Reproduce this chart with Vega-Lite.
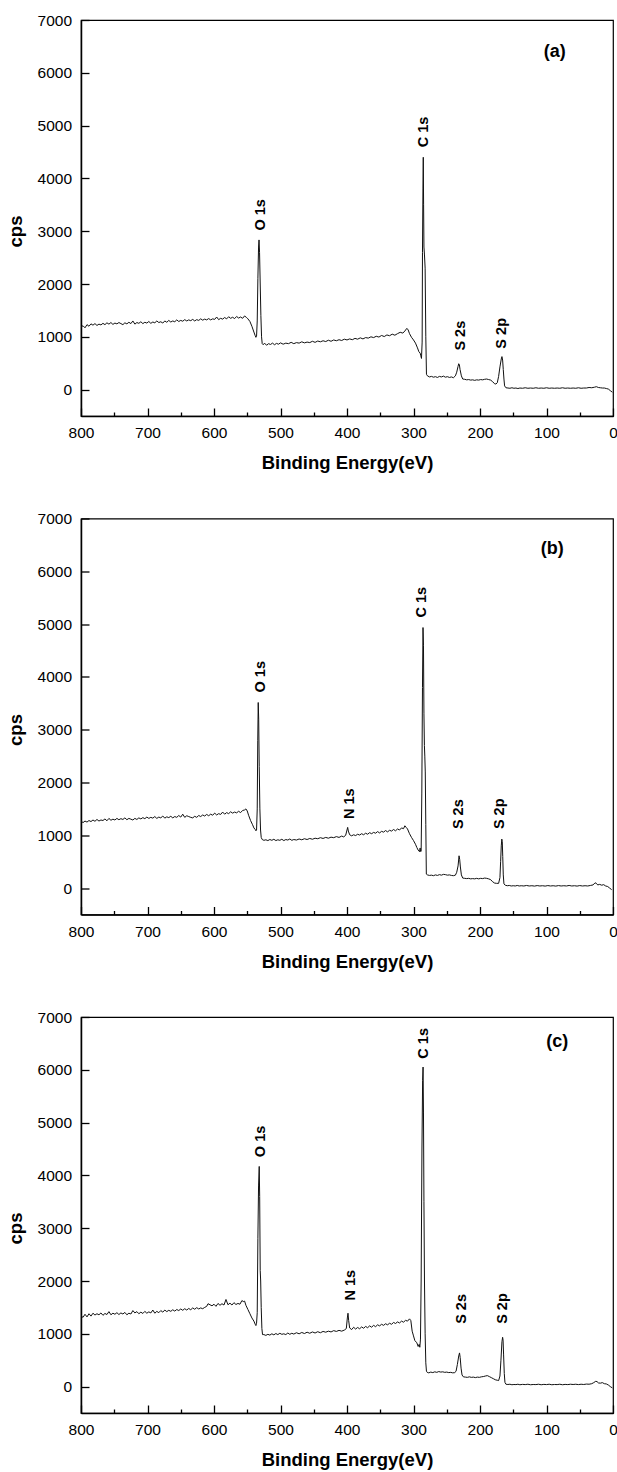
{
"$schema": "https://vega.github.io/schema/vega-lite/v6.json",
"bounds": "flush",
"spacing": 102.5,
"padding": {"left": 5, "top": 12, "right": 5, "bottom": 5},
"config": {
  "font": "Liberation Sans",
  "view": {"stroke": "#000", "strokeWidth": 1.2},
  "axis": {"domainColor": "#000", "domainWidth": 1.5, "tickColor": "#000", "tickWidth": 1.3, "labelColor": "#000", "titleColor": "#000", "labelFont": "Liberation Sans", "labelFontSize": 15.5, "titleFont": "Liberation Sans", "titleFontSize": 18.5, "titleFontWeight": "bold", "grid": false, "labelFlush": false, "labelOverlap": false},
  "axisX": {"values": [0,50,100,150,200,250,300,350,400,450,500,550,600,650,700,750,800], "labelExpr": "datum.value % 100 === 0 ? datum.label : ''", "labelPadding": 17.5, "titleY": 37.5, "titleBaseline": "top"},
  "axisY": {"values": [-500,0,500,1000,1500,2000,2500,3000,3500,4000,4500,5000,5500,6000,6500,7000], "labelExpr": "datum.value % 1000 === 0 ? datum.label : ''", "labelPadding": 17.5, "titleY": 211, "titlePadding": 12, "format": "d"}
},
"vconcat": [
{
  "width": 532, "height": 396,
  "layer": [
    {"data": {"values": [
{"E":800,"cps":1180},{"E":797,"cps":1210},{"E":794,"cps":1170},{"E":791,"cps":1230},{"E":788,"cps":1200},{"E":785,"cps":1245},{"E":782,"cps":1220},{"E":779,"cps":1250},{"E":776,"cps":1215},{"E":773,"cps":1240},{"E":770,"cps":1225},{"E":767,"cps":1255},{"E":764,"cps":1230},{"E":761,"cps":1265},{"E":758,"cps":1240},{"E":755,"cps":1270},{"E":752,"cps":1235},{"E":749,"cps":1260},{"E":746,"cps":1245},{"E":743,"cps":1270},{"E":740,"cps":1250},{"E":737,"cps":1230},{"E":734,"cps":1265},{"E":731,"cps":1245},{"E":728,"cps":1275},{"E":725,"cps":1250},{"E":722,"cps":1300},{"E":719,"cps":1240},{"E":716,"cps":1270},{"E":713,"cps":1255},{"E":710,"cps":1285},{"E":707,"cps":1250},{"E":704,"cps":1275},{"E":701,"cps":1260},{"E":698,"cps":1290},{"E":695,"cps":1255},{"E":692,"cps":1280},{"E":689,"cps":1265},{"E":686,"cps":1300},{"E":683,"cps":1270},{"E":680,"cps":1285},{"E":677,"cps":1260},{"E":674,"cps":1300},{"E":671,"cps":1275},{"E":668,"cps":1310},{"E":665,"cps":1280},{"E":662,"cps":1300},{"E":659,"cps":1285},{"E":656,"cps":1320},{"E":653,"cps":1290},{"E":650,"cps":1310},{"E":647,"cps":1295},{"E":644,"cps":1325},{"E":641,"cps":1300},{"E":638,"cps":1320},{"E":635,"cps":1305},{"E":632,"cps":1330},{"E":629,"cps":1300},{"E":626,"cps":1325},{"E":623,"cps":1310},{"E":620,"cps":1340},{"E":617,"cps":1315},{"E":614,"cps":1335},{"E":611,"cps":1320},{"E":608,"cps":1345},{"E":605,"cps":1320},{"E":602,"cps":1340},{"E":599,"cps":1330},{"E":596,"cps":1375},{"E":593,"cps":1325},{"E":590,"cps":1350},{"E":587,"cps":1335},{"E":584,"cps":1365},{"E":581,"cps":1340},{"E":578,"cps":1380},{"E":575,"cps":1350},{"E":572,"cps":1370},{"E":569,"cps":1345},{"E":566,"cps":1385},{"E":563,"cps":1355},{"E":560,"cps":1375},{"E":557,"cps":1350},{"E":554,"cps":1395},{"E":551,"cps":1365},{"E":549,"cps":1340},{"E":546,"cps":1290},{"E":543,"cps":1200},{"E":540,"cps":1090},{"E":538,"cps":1020},{"E":537,"cps":990},{"E":536,"cps":1010},{"E":535,"cps":1300},{"E":534,"cps":2100},{"E":533,"cps":2700},{"E":532.3,"cps":2835},{"E":531.5,"cps":2600},{"E":530.5,"cps":2000},{"E":529.5,"cps":1400},{"E":528.5,"cps":1000},{"E":527.5,"cps":870},{"E":526,"cps":850},{"E":524,"cps":880},{"E":521,"cps":840},{"E":518,"cps":870},{"E":515,"cps":855},{"E":512,"cps":880},{"E":509,"cps":850},{"E":506,"cps":875},{"E":503,"cps":860},{"E":500,"cps":885},{"E":496,"cps":860},{"E":492,"cps":880},{"E":488,"cps":870},{"E":484,"cps":895},{"E":480,"cps":870},{"E":476,"cps":890},{"E":472,"cps":880},{"E":468,"cps":905},{"E":464,"cps":885},{"E":460,"cps":900},{"E":456,"cps":890},{"E":452,"cps":915},{"E":448,"cps":895},{"E":444,"cps":920},{"E":440,"cps":905},{"E":436,"cps":925},{"E":432,"cps":910},{"E":428,"cps":935},{"E":424,"cps":915},{"E":420,"cps":940},{"E":416,"cps":925},{"E":412,"cps":945},{"E":408,"cps":930},{"E":404,"cps":955},{"E":400,"cps":940},{"E":396,"cps":960},{"E":392,"cps":945},{"E":388,"cps":970},{"E":384,"cps":955},{"E":380,"cps":980},{"E":376,"cps":960},{"E":372,"cps":985},{"E":368,"cps":975},{"E":364,"cps":1000},{"E":360,"cps":985},{"E":356,"cps":1010},{"E":352,"cps":995},{"E":348,"cps":1025},{"E":344,"cps":1005},{"E":340,"cps":1035},{"E":336,"cps":1020},{"E":332,"cps":1050},{"E":328,"cps":1030},{"E":324,"cps":1060},{"E":320,"cps":1085},{"E":316,"cps":1070},{"E":313,"cps":1110},{"E":310,"cps":1160},{"E":308,"cps":1130},{"E":306,"cps":1060},{"E":303,"cps":990},{"E":300,"cps":940},{"E":297,"cps":880},{"E":294,"cps":790},{"E":292,"cps":720},{"E":290,"cps":690},{"E":289,"cps":640},{"E":288,"cps":590},{"E":287,"cps":900},{"E":286.5,"cps":2600},{"E":285.8,"cps":3800},{"E":285.3,"cps":4400},{"E":284.8,"cps":3500},{"E":284.3,"cps":2700},{"E":283.5,"cps":2550},{"E":282.5,"cps":2300},{"E":281.5,"cps":1000},{"E":280.5,"cps":290},{"E":279,"cps":260},{"E":276,"cps":240},{"E":273,"cps":250},{"E":270,"cps":235},{"E":267,"cps":245},{"E":264,"cps":230},{"E":261,"cps":250},{"E":258,"cps":240},{"E":255,"cps":255},{"E":252,"cps":235},{"E":249,"cps":245},{"E":246,"cps":230},{"E":243,"cps":240},{"E":240,"cps":225},{"E":237,"cps":260},{"E":235,"cps":330},{"E":233,"cps":440},{"E":232,"cps":490},{"E":231,"cps":470},{"E":230,"cps":380},{"E":228,"cps":260},{"E":226,"cps":200},{"E":223,"cps":195},{"E":220,"cps":185},{"E":217,"cps":190},{"E":214,"cps":180},{"E":211,"cps":185},{"E":208,"cps":175},{"E":205,"cps":185},{"E":202,"cps":180},{"E":199,"cps":190},{"E":196,"cps":185},{"E":193,"cps":195},{"E":190,"cps":200},{"E":187,"cps":190},{"E":184,"cps":180},{"E":181,"cps":150},{"E":178,"cps":110},{"E":176,"cps":105},{"E":174,"cps":130},{"E":172,"cps":250},{"E":170,"cps":430},{"E":168,"cps":580},{"E":167,"cps":625},{"E":166,"cps":560},{"E":165,"cps":380},{"E":164,"cps":200},{"E":163,"cps":70},{"E":161,"cps":35},{"E":158,"cps":30},{"E":155,"cps":25},{"E":152,"cps":35},{"E":149,"cps":25},{"E":146,"cps":30},{"E":143,"cps":20},{"E":140,"cps":30},{"E":136,"cps":25},{"E":132,"cps":35},{"E":128,"cps":25},{"E":124,"cps":30},{"E":120,"cps":25},{"E":116,"cps":35},{"E":112,"cps":25},{"E":108,"cps":30},{"E":104,"cps":25},{"E":100,"cps":35},{"E":96,"cps":25},{"E":92,"cps":30},{"E":88,"cps":25},{"E":84,"cps":30},{"E":80,"cps":25},{"E":76,"cps":35},{"E":72,"cps":25},{"E":68,"cps":30},{"E":64,"cps":25},{"E":60,"cps":30},{"E":56,"cps":25},{"E":52,"cps":35},{"E":48,"cps":25},{"E":44,"cps":30},{"E":40,"cps":30},{"E":36,"cps":40},{"E":32,"cps":35},{"E":28,"cps":45},{"E":25,"cps":55},{"E":22,"cps":40},{"E":19,"cps":35},{"E":16,"cps":30},{"E":13,"cps":30},{"E":10,"cps":20},{"E":7,"cps":10},{"E":4,"cps":-20},{"E":1,"cps":-50}
    ]},
     "mark": {"type": "line", "color": "#111", "strokeWidth": 1},
     "encoding": {
       "x": {"field": "E", "type": "quantitative", "title": "Binding Energy(eV)", "scale": {"domain": [0, 800], "reverse": true, "nice": false, "zero": false}, "axis": {"tickSize": {"condition": {"test": "datum.value % 100 === 0", "value": -8}, "value": -4}}},
       "y": {"field": "cps", "type": "quantitative", "title": "cps", "scale": {"domain": [-500, 7000], "nice": false, "zero": false}, "axis": {"tickSize": {"condition": {"test": "datum.value % 1000 === 0", "value": -8}, "value": -4}}}
     }},
    {"data": {"values": [{"E":529.6,"cps":3011,"t":"O 1s"},{"E":284.2,"cps":4589,"t":"C 1s"},{"E":229.1,"cps":739,"t":"S 2s"},{"E":167.5,"cps":776,"t":"S 2p"}]},
     "mark": {"type": "text", "angle": 270, "align": "left", "baseline": "middle", "font": "Liberation Sans", "fontWeight": "bold", "fontSize": 14.5, "color": "#000"},
     "encoding": {"x": {"field": "E", "type": "quantitative", "title": "Binding Energy(eV)", "scale": {"domain": [0, 800], "reverse": true, "nice": false, "zero": false}}, "y": {"field": "cps", "type": "quantitative", "title": "cps", "scale": {"domain": [-500, 7000], "nice": false, "zero": false}}, "text": {"field": "t"}}},
    {"data": {"values": [{"E":87.6,"cps":6388,"t":"(a)"}]},
     "mark": {"type": "text", "align": "center", "baseline": "middle", "font": "Liberation Sans", "fontWeight": "bold", "fontSize": 18, "color": "#000"},
     "encoding": {"x": {"field": "E", "type": "quantitative", "title": "Binding Energy(eV)", "scale": {"domain": [0, 800], "reverse": true, "nice": false, "zero": false}}, "y": {"field": "cps", "type": "quantitative", "title": "cps", "scale": {"domain": [-500, 7000], "nice": false, "zero": false}}, "text": {"field": "t"}}}
  ]
},
{
  "width": 532, "height": 396,
  "layer": [
    {"data": {"values": [
{"E":800,"cps":1275},{"E":797,"cps":1240},{"E":794,"cps":1270},{"E":791,"cps":1250},{"E":788,"cps":1280},{"E":785,"cps":1260},{"E":782,"cps":1290},{"E":779,"cps":1265},{"E":776,"cps":1300},{"E":773,"cps":1270},{"E":770,"cps":1290},{"E":767,"cps":1280},{"E":764,"cps":1310},{"E":761,"cps":1275},{"E":758,"cps":1320},{"E":755,"cps":1285},{"E":752,"cps":1305},{"E":749,"cps":1290},{"E":746,"cps":1320},{"E":743,"cps":1295},{"E":740,"cps":1315},{"E":737,"cps":1300},{"E":734,"cps":1330},{"E":731,"cps":1295},{"E":728,"cps":1320},{"E":725,"cps":1305},{"E":722,"cps":1290},{"E":719,"cps":1320},{"E":716,"cps":1300},{"E":713,"cps":1330},{"E":710,"cps":1310},{"E":707,"cps":1335},{"E":704,"cps":1315},{"E":701,"cps":1345},{"E":698,"cps":1320},{"E":695,"cps":1340},{"E":692,"cps":1325},{"E":689,"cps":1355},{"E":686,"cps":1320},{"E":683,"cps":1345},{"E":680,"cps":1330},{"E":677,"cps":1365},{"E":674,"cps":1325},{"E":671,"cps":1350},{"E":668,"cps":1335},{"E":665,"cps":1360},{"E":662,"cps":1330},{"E":659,"cps":1355},{"E":656,"cps":1340},{"E":653,"cps":1375},{"E":650,"cps":1345},{"E":647,"cps":1400},{"E":644,"cps":1340},{"E":641,"cps":1370},{"E":638,"cps":1355},{"E":635,"cps":1340},{"E":632,"cps":1330},{"E":629,"cps":1360},{"E":626,"cps":1340},{"E":623,"cps":1375},{"E":620,"cps":1355},{"E":617,"cps":1385},{"E":614,"cps":1365},{"E":611,"cps":1395},{"E":608,"cps":1370},{"E":605,"cps":1400},{"E":602,"cps":1380},{"E":599,"cps":1420},{"E":596,"cps":1385},{"E":593,"cps":1410},{"E":590,"cps":1395},{"E":587,"cps":1440},{"E":584,"cps":1400},{"E":581,"cps":1430},{"E":578,"cps":1410},{"E":575,"cps":1445},{"E":572,"cps":1420},{"E":569,"cps":1440},{"E":566,"cps":1425},{"E":563,"cps":1455},{"E":560,"cps":1430},{"E":557,"cps":1470},{"E":554,"cps":1480},{"E":552,"cps":1500},{"E":550,"cps":1460},{"E":548,"cps":1380},{"E":545,"cps":1280},{"E":542,"cps":1200},{"E":540,"cps":1140},{"E":538,"cps":1110},{"E":537,"cps":1085},{"E":536,"cps":1100},{"E":535,"cps":1500},{"E":534.2,"cps":2800},{"E":533.5,"cps":3515},{"E":532.8,"cps":3200},{"E":532,"cps":2300},{"E":531,"cps":1500},{"E":530,"cps":1100},{"E":529,"cps":960},{"E":527.5,"cps":920},{"E":525,"cps":905},{"E":522,"cps":915},{"E":519,"cps":900},{"E":516,"cps":920},{"E":513,"cps":905},{"E":510,"cps":925},{"E":507,"cps":900},{"E":504,"cps":915},{"E":501,"cps":905},{"E":498,"cps":925},{"E":495,"cps":900},{"E":492,"cps":920},{"E":489,"cps":910},{"E":486,"cps":930},{"E":483,"cps":905},{"E":480,"cps":920},{"E":476,"cps":910},{"E":472,"cps":930},{"E":468,"cps":915},{"E":464,"cps":935},{"E":460,"cps":920},{"E":456,"cps":940},{"E":452,"cps":925},{"E":448,"cps":945},{"E":444,"cps":935},{"E":440,"cps":955},{"E":436,"cps":940},{"E":432,"cps":960},{"E":428,"cps":945},{"E":424,"cps":965},{"E":420,"cps":955},{"E":416,"cps":975},{"E":412,"cps":960},{"E":408,"cps":985},{"E":405,"cps":970},{"E":402,"cps":1000},{"E":400,"cps":1100},{"E":399,"cps":1150},{"E":398,"cps":1080},{"E":396,"cps":1010},{"E":393,"cps":990},{"E":390,"cps":1010},{"E":387,"cps":995},{"E":384,"cps":1020},{"E":381,"cps":1005},{"E":378,"cps":1030},{"E":375,"cps":1010},{"E":372,"cps":1040},{"E":369,"cps":1020},{"E":366,"cps":1050},{"E":363,"cps":1030},{"E":360,"cps":1055},{"E":357,"cps":1040},{"E":354,"cps":1070},{"E":351,"cps":1045},{"E":348,"cps":1075},{"E":345,"cps":1060},{"E":342,"cps":1090},{"E":339,"cps":1065},{"E":336,"cps":1095},{"E":333,"cps":1080},{"E":330,"cps":1110},{"E":327,"cps":1085},{"E":324,"cps":1120},{"E":321,"cps":1100},{"E":318,"cps":1140},{"E":315,"cps":1125},{"E":313,"cps":1180},{"E":311,"cps":1150},{"E":309,"cps":1120},{"E":306,"cps":1030},{"E":303,"cps":960},{"E":300,"cps":900},{"E":297,"cps":830},{"E":295,"cps":770},{"E":293,"cps":720},{"E":291,"cps":690},{"E":290,"cps":760},{"E":289.2,"cps":690},{"E":288.5,"cps":700},{"E":287.5,"cps":1800},{"E":286.5,"cps":3800},{"E":285.7,"cps":4935},{"E":285,"cps":4600},{"E":284.3,"cps":3300},{"E":283.6,"cps":2700},{"E":283,"cps":2500},{"E":282.3,"cps":2200},{"E":281.5,"cps":1200},{"E":280.7,"cps":265},{"E":279,"cps":250},{"E":276,"cps":240},{"E":273,"cps":245},{"E":270,"cps":235},{"E":267,"cps":250},{"E":264,"cps":240},{"E":261,"cps":255},{"E":258,"cps":245},{"E":255,"cps":260},{"E":252,"cps":255},{"E":249,"cps":245},{"E":246,"cps":250},{"E":243,"cps":240},{"E":240,"cps":235},{"E":237,"cps":245},{"E":235,"cps":300},{"E":233,"cps":420},{"E":231.5,"cps":612},{"E":230.5,"cps":540},{"E":229.5,"cps":400},{"E":228,"cps":250},{"E":226,"cps":190},{"E":223,"cps":185},{"E":220,"cps":180},{"E":217,"cps":185},{"E":214,"cps":175},{"E":211,"cps":180},{"E":208,"cps":175},{"E":205,"cps":185},{"E":202,"cps":175},{"E":199,"cps":185},{"E":196,"cps":180},{"E":193,"cps":190},{"E":190,"cps":185},{"E":187,"cps":175},{"E":184,"cps":160},{"E":181,"cps":120},{"E":178,"cps":95},{"E":175,"cps":90},{"E":172,"cps":90},{"E":170,"cps":200},{"E":169,"cps":500},{"E":168,"cps":800},{"E":167.2,"cps":928},{"E":166.5,"cps":880},{"E":165.8,"cps":600},{"E":165,"cps":250},{"E":164,"cps":80},{"E":162,"cps":55},{"E":159,"cps":45},{"E":156,"cps":50},{"E":153,"cps":40},{"E":150,"cps":45},{"E":147,"cps":40},{"E":144,"cps":50},{"E":141,"cps":40},{"E":138,"cps":45},{"E":134,"cps":40},{"E":130,"cps":50},{"E":126,"cps":40},{"E":122,"cps":45},{"E":118,"cps":38},{"E":114,"cps":48},{"E":110,"cps":40},{"E":106,"cps":45},{"E":102,"cps":38},{"E":98,"cps":48},{"E":94,"cps":40},{"E":90,"cps":45},{"E":86,"cps":38},{"E":82,"cps":48},{"E":78,"cps":40},{"E":74,"cps":45},{"E":70,"cps":40},{"E":66,"cps":50},{"E":62,"cps":40},{"E":58,"cps":45},{"E":54,"cps":38},{"E":50,"cps":48},{"E":46,"cps":40},{"E":42,"cps":45},{"E":38,"cps":40},{"E":34,"cps":50},{"E":30,"cps":60},{"E":27,"cps":100},{"E":25,"cps":90},{"E":23,"cps":60},{"E":20,"cps":70},{"E":17,"cps":55},{"E":14,"cps":65},{"E":11,"cps":40},{"E":8,"cps":30},{"E":5,"cps":0},{"E":2,"cps":-30}
    ]},
     "mark": {"type": "line", "color": "#111", "strokeWidth": 1},
     "encoding": {
       "x": {"field": "E", "type": "quantitative", "title": "Binding Energy(eV)", "scale": {"domain": [0, 800], "reverse": true, "nice": false, "zero": false}, "axis": {"tickSize": {"condition": {"test": "datum.value % 100 === 0", "value": -8}, "value": -4}}},
       "y": {"field": "cps", "type": "quantitative", "title": "cps", "scale": {"domain": [-500, 7000], "nice": false, "zero": false}, "axis": {"tickSize": {"condition": {"test": "datum.value % 1000 === 0", "value": -8}, "value": -4}}}
     }},
    {"data": {"values": [{"E":529.7,"cps":3705,"t":"O 1s"},{"E":286.9,"cps":5125,"t":"C 1s"},{"E":395.8,"cps":1307,"t":"N 1s"},{"E":231.7,"cps":1117,"t":"S 2s"},{"E":169.4,"cps":1117,"t":"S 2p"}]},
     "mark": {"type": "text", "angle": 270, "align": "left", "baseline": "middle", "font": "Liberation Sans", "fontWeight": "bold", "fontSize": 14.5, "color": "#000"},
     "encoding": {"x": {"field": "E", "type": "quantitative", "title": "Binding Energy(eV)", "scale": {"domain": [0, 800], "reverse": true, "nice": false, "zero": false}}, "y": {"field": "cps", "type": "quantitative", "title": "cps", "scale": {"domain": [-500, 7000], "nice": false, "zero": false}}, "text": {"field": "t"}}},
    {"data": {"values": [{"E":91.5,"cps":6420,"t":"(b)"}]},
     "mark": {"type": "text", "align": "center", "baseline": "middle", "font": "Liberation Sans", "fontWeight": "bold", "fontSize": 18, "color": "#000"},
     "encoding": {"x": {"field": "E", "type": "quantitative", "title": "Binding Energy(eV)", "scale": {"domain": [0, 800], "reverse": true, "nice": false, "zero": false}}, "y": {"field": "cps", "type": "quantitative", "title": "cps", "scale": {"domain": [-500, 7000], "nice": false, "zero": false}}, "text": {"field": "t"}}}
  ]
},
{
  "width": 532, "height": 396,
  "layer": [
    {"data": {"values": [
{"E":800,"cps":1346},{"E":797,"cps":1310},{"E":794,"cps":1370},{"E":791,"cps":1320},{"E":788,"cps":1380},{"E":785,"cps":1335},{"E":782,"cps":1390},{"E":779,"cps":1355},{"E":776,"cps":1380},{"E":773,"cps":1360},{"E":770,"cps":1395},{"E":767,"cps":1350},{"E":764,"cps":1385},{"E":761,"cps":1365},{"E":758,"cps":1420},{"E":755,"cps":1360},{"E":752,"cps":1390},{"E":749,"cps":1370},{"E":746,"cps":1400},{"E":743,"cps":1365},{"E":740,"cps":1395},{"E":737,"cps":1375},{"E":734,"cps":1405},{"E":731,"cps":1360},{"E":728,"cps":1390},{"E":725,"cps":1375},{"E":722,"cps":1440},{"E":719,"cps":1395},{"E":716,"cps":1420},{"E":713,"cps":1380},{"E":710,"cps":1410},{"E":707,"cps":1385},{"E":704,"cps":1425},{"E":701,"cps":1390},{"E":698,"cps":1415},{"E":695,"cps":1395},{"E":692,"cps":1450},{"E":689,"cps":1390},{"E":686,"cps":1425},{"E":683,"cps":1400},{"E":680,"cps":1440},{"E":677,"cps":1410},{"E":674,"cps":1450},{"E":671,"cps":1420},{"E":668,"cps":1445},{"E":665,"cps":1425},{"E":662,"cps":1455},{"E":659,"cps":1430},{"E":656,"cps":1460},{"E":653,"cps":1440},{"E":650,"cps":1470},{"E":647,"cps":1445},{"E":644,"cps":1475},{"E":641,"cps":1450},{"E":638,"cps":1480},{"E":635,"cps":1455},{"E":632,"cps":1490},{"E":629,"cps":1465},{"E":626,"cps":1495},{"E":623,"cps":1470},{"E":620,"cps":1490},{"E":617,"cps":1475},{"E":614,"cps":1500},{"E":611,"cps":1520},{"E":609,"cps":1570},{"E":606,"cps":1550},{"E":603,"cps":1530},{"E":600,"cps":1560},{"E":597,"cps":1520},{"E":594,"cps":1575},{"E":591,"cps":1540},{"E":588,"cps":1570},{"E":585,"cps":1545},{"E":582,"cps":1650},{"E":579,"cps":1550},{"E":576,"cps":1580},{"E":573,"cps":1545},{"E":570,"cps":1590},{"E":567,"cps":1555},{"E":564,"cps":1575},{"E":561,"cps":1560},{"E":558,"cps":1630},{"E":556,"cps":1610},{"E":554,"cps":1620},{"E":552,"cps":1540},{"E":549,"cps":1460},{"E":546,"cps":1380},{"E":543,"cps":1300},{"E":540,"cps":1240},{"E":538,"cps":1180},{"E":537,"cps":1156},{"E":536,"cps":1200},{"E":535,"cps":1400},{"E":534,"cps":2800},{"E":533,"cps":3800},{"E":532,"cps":4170},{"E":531.3,"cps":3600},{"E":530.5,"cps":2200},{"E":529.8,"cps":2000},{"E":529,"cps":1500},{"E":528,"cps":1100},{"E":527,"cps":985},{"E":525,"cps":985},{"E":522,"cps":970},{"E":519,"cps":990},{"E":516,"cps":975},{"E":513,"cps":1000},{"E":510,"cps":980},{"E":507,"cps":1005},{"E":504,"cps":985},{"E":501,"cps":1010},{"E":498,"cps":990},{"E":495,"cps":1000},{"E":492,"cps":985},{"E":489,"cps":1015},{"E":486,"cps":990},{"E":483,"cps":1010},{"E":480,"cps":995},{"E":476,"cps":1020},{"E":472,"cps":1000},{"E":468,"cps":1025},{"E":464,"cps":1005},{"E":460,"cps":1030},{"E":456,"cps":1010},{"E":452,"cps":1035},{"E":448,"cps":1015},{"E":444,"cps":1040},{"E":440,"cps":1020},{"E":436,"cps":1045},{"E":432,"cps":1030},{"E":428,"cps":1050},{"E":424,"cps":1035},{"E":420,"cps":1060},{"E":416,"cps":1045},{"E":412,"cps":1065},{"E":408,"cps":1050},{"E":404,"cps":1070},{"E":401,"cps":1100},{"E":399.5,"cps":1300},{"E":398.5,"cps":1390},{"E":397.5,"cps":1250},{"E":396,"cps":1110},{"E":393,"cps":1080},{"E":390,"cps":1124},{"E":387,"cps":1090},{"E":384,"cps":1120},{"E":381,"cps":1095},{"E":378,"cps":1130},{"E":375,"cps":1105},{"E":372,"cps":1140},{"E":369,"cps":1115},{"E":366,"cps":1150},{"E":363,"cps":1125},{"E":360,"cps":1160},{"E":357,"cps":1135},{"E":354,"cps":1170},{"E":351,"cps":1150},{"E":348,"cps":1180},{"E":345,"cps":1160},{"E":342,"cps":1190},{"E":339,"cps":1170},{"E":336,"cps":1200},{"E":333,"cps":1180},{"E":330,"cps":1215},{"E":327,"cps":1195},{"E":324,"cps":1225},{"E":321,"cps":1205},{"E":318,"cps":1240},{"E":315,"cps":1220},{"E":312,"cps":1255},{"E":309,"cps":1240},{"E":306,"cps":1283},{"E":304,"cps":1250},{"E":302,"cps":1050},{"E":300,"cps":960},{"E":298,"cps":872},{"E":295,"cps":830},{"E":293,"cps":760},{"E":291.5,"cps":800},{"E":290.5,"cps":745},{"E":289.5,"cps":900},{"E":288.5,"cps":2000},{"E":287.3,"cps":4500},{"E":286.3,"cps":5800},{"E":285.6,"cps":6052},{"E":285,"cps":5200},{"E":284.3,"cps":3500},{"E":283.5,"cps":2000},{"E":282.5,"cps":1000},{"E":281.5,"cps":450},{"E":280.5,"cps":290},{"E":279.5,"cps":271},{"E":277,"cps":260},{"E":274,"cps":275},{"E":271,"cps":265},{"E":268,"cps":280},{"E":265,"cps":270},{"E":262,"cps":285},{"E":259,"cps":275},{"E":256,"cps":280},{"E":253,"cps":270},{"E":250,"cps":275},{"E":247,"cps":265},{"E":244,"cps":270},{"E":241,"cps":260},{"E":238,"cps":265},{"E":236,"cps":290},{"E":234,"cps":420},{"E":232,"cps":580},{"E":230.8,"cps":638},{"E":229.8,"cps":550},{"E":228.5,"cps":350},{"E":227,"cps":220},{"E":225,"cps":185},{"E":222,"cps":180},{"E":219,"cps":175},{"E":216,"cps":185},{"E":213,"cps":175},{"E":210,"cps":180},{"E":207,"cps":170},{"E":204,"cps":180},{"E":201,"cps":175},{"E":198,"cps":185},{"E":195,"cps":190},{"E":192,"cps":200},{"E":189,"cps":208},{"E":186,"cps":190},{"E":183,"cps":170},{"E":180,"cps":150},{"E":177,"cps":130},{"E":174,"cps":120},{"E":172,"cps":114},{"E":170,"cps":200},{"E":168.5,"cps":500},{"E":167,"cps":850},{"E":166,"cps":934},{"E":165.3,"cps":880},{"E":164.5,"cps":600},{"E":163.5,"cps":250},{"E":162.5,"cps":80},{"E":161,"cps":45},{"E":158,"cps":40},{"E":155,"cps":45},{"E":152,"cps":35},{"E":149,"cps":40},{"E":146,"cps":38},{"E":143,"cps":45},{"E":140,"cps":35},{"E":136,"cps":42},{"E":132,"cps":38},{"E":128,"cps":45},{"E":124,"cps":35},{"E":120,"cps":40},{"E":116,"cps":38},{"E":112,"cps":45},{"E":108,"cps":35},{"E":104,"cps":42},{"E":100,"cps":38},{"E":96,"cps":45},{"E":92,"cps":35},{"E":88,"cps":40},{"E":84,"cps":38},{"E":80,"cps":45},{"E":76,"cps":35},{"E":72,"cps":42},{"E":68,"cps":38},{"E":64,"cps":45},{"E":60,"cps":40},{"E":56,"cps":45},{"E":52,"cps":38},{"E":48,"cps":45},{"E":44,"cps":40},{"E":40,"cps":48},{"E":36,"cps":45},{"E":32,"cps":55},{"E":29,"cps":75},{"E":26,"cps":100},{"E":24,"cps":95},{"E":22,"cps":70},{"E":19,"cps":65},{"E":16,"cps":75},{"E":13,"cps":55},{"E":10,"cps":50},{"E":7,"cps":30},{"E":4,"cps":0},{"E":1,"cps":-25}
    ]},
     "mark": {"type": "line", "color": "#111", "strokeWidth": 1},
     "encoding": {
       "x": {"field": "E", "type": "quantitative", "title": "Binding Energy(eV)", "scale": {"domain": [0, 800], "reverse": true, "nice": false, "zero": false}, "axis": {"tickSize": {"condition": {"test": "datum.value % 100 === 0", "value": -8}, "value": -4}}},
       "y": {"field": "cps", "type": "quantitative", "title": "cps", "scale": {"domain": [-500, 7000], "nice": false, "zero": false}, "axis": {"tickSize": {"condition": {"test": "datum.value % 1000 === 0", "value": -8}, "value": -4}}}
     }},
    {"data": {"values": [{"E":529.8,"cps":4346,"t":"O 1s"},{"E":284.3,"cps":6211,"t":"C 1s"},{"E":394.5,"cps":1630,"t":"N 1s"},{"E":226.7,"cps":1188,"t":"S 2s"},{"E":165.3,"cps":1188,"t":"S 2p"}]},
     "mark": {"type": "text", "angle": 270, "align": "left", "baseline": "middle", "font": "Liberation Sans", "fontWeight": "bold", "fontSize": 14.5, "color": "#000"},
     "encoding": {"x": {"field": "E", "type": "quantitative", "title": "Binding Energy(eV)", "scale": {"domain": [0, 800], "reverse": true, "nice": false, "zero": false}}, "y": {"field": "cps", "type": "quantitative", "title": "cps", "scale": {"domain": [-500, 7000], "nice": false, "zero": false}}, "text": {"field": "t"}}},
    {"data": {"values": [{"E":83.9,"cps":6526,"t":"(c)"}]},
     "mark": {"type": "text", "align": "center", "baseline": "middle", "font": "Liberation Sans", "fontWeight": "bold", "fontSize": 18, "color": "#000"},
     "encoding": {"x": {"field": "E", "type": "quantitative", "title": "Binding Energy(eV)", "scale": {"domain": [0, 800], "reverse": true, "nice": false, "zero": false}}, "y": {"field": "cps", "type": "quantitative", "title": "cps", "scale": {"domain": [-500, 7000], "nice": false, "zero": false}}, "text": {"field": "t"}}}
  ]
}
]
}
